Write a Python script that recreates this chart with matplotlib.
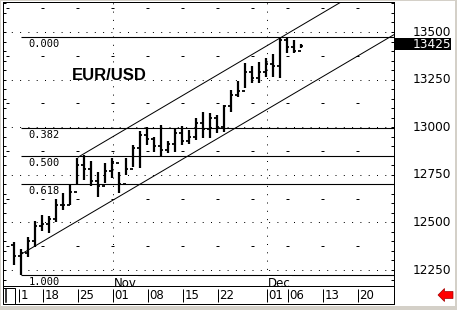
import matplotlib
matplotlib.use('Agg')
import matplotlib.pyplot as plt
from matplotlib.patches import Rectangle, Polygon
from matplotlib import transforms
from matplotlib.ticker import MultipleLocator

# ---------------- data ----------------
bar_idx = list(range(1, 43))  # trading-day index, 0 = Mon Oct 11 2004
highs = [12399, 12360, 12421, 12505, 12539, 12534, 12623, 12654, 12696, 12836,
         12854, 12822, 12767, 12812, 12838, 12767, 12838, 12906, 12980, 13001,
         12951, 13012, 12925, 12996, 13004, 12985, 13048, 13082, 13075, 13064,
         13117, 13195, 13243, 13337, 13319, 13345, 13363, 13387, 13474, 13466,
         13458, 13437]
lows = [12276, 12224, 12318, 12373, 12457, 12444, 12502, 12565, 12594, 12696,
        12723, 12691, 12636, 12707, 12733, 12657, 12749, 12791, 12786, 12906,
        12872, 12843, 12867, 12872, 12906, 12914, 12933, 12943, 12943, 12970,
        12977, 13082, 13161, 13206, 13230, 13230, 13264, 13264, 13258, 13390,
        13390, 13416]
closes = [12325, 12340, 12400, 12480, 12490, 12520, 12590, 12590, 12660, 12800,
          12780, 12720, 12690, 12770, 12810, 12700, 12780, 12890, 12960, 12940,
          12900, 12880, 12910, 12970, 12930, 12950, 13020, 12990, 13050, 13000,
          13110, 13170, 13190, 13290, 13260, 13290, 13330, 13320, 13460, 13420,
          13400, 13425]
opens = [12380] + closes[:-1]

fib_ratios = [0.0, 0.382, 0.5, 0.618, 1.0]
fib_labels = ['0.000', '0.382', '0.500', '0.618', '1.000']

channel_lower_x = [2.0, 55.3]
channel_lower_y = [12332, 13486]
channel_upper_x = [10.2, 48.0]
channel_upper_y = [12843, 13663]

price_labels = [12250, 12500, 12750, 13000, 13250, 13500]
minor_levels = [12375, 12625, 12875, 13125, 13375, 13625]
monday_idx = [0, 5, 10, 15, 20, 25, 30, 35, 40, 45, 50]
month_idx = [15, 37]
month_names = ['Nov', 'Dec']
date_tick_idx = [1.6, 5, 10, 15, 20, 25, 30, 37, 40, 45, 50]
date_tick_labels = ['1', '18', '25', '01', '08', '15', '22', '01', '06', '13', '20']
last_price = 13425
title = 'EUR/USD'

# ---------------- figure ----------------
W, H = 457, 310
fig = plt.figure(figsize=(W / 100, H / 100), dpi=100)
fig.patch.set_facecolor('white')

def fx(px):
    return px / W

def fy(py):
    return 1 - py / H

LW = 0.72  # one pixel
ax = fig.add_axes([fx(2.5), fy(286), (393.5 - 2.5) / W, (286 - 2) / H])
ax.set_xlim(-0.614, 55.24)
ax.set_ylim(12166, 13657.6)
for s in ax.spines.values():
    s.set_linewidth(LW)
    s.set_color('black')
ax.set_xticks([])
ax.yaxis.set_major_locator(MultipleLocator(50))
ax.tick_params(axis='y', which='both', direction='in', left=True, right=True,
               labelleft=False, labelright=False, length=2.5, width=LW)

# dotted grid
for lvl in price_labels:
    ax.axhline(lvl, color='black', lw=LW, dashes=(1, 7.3), zorder=1)
for m in month_idx:
    ax.axvline(m + 0.13, color='black', lw=LW, dashes=(1, 7.3), zorder=1)
for lvl in minor_levels:
    ax.hlines([lvl] * len(monday_idx), [m - 0.05 for m in monday_idx],
              [m + 0.3 for m in monday_idx], color='black', lw=LW, zorder=1)

# fibonacci levels
hi = max(highs)
lo = min(lows)
lo_i = bar_idx[lows.index(lo)]
for r, lab in zip(fib_ratios, fib_labels):
    lvl = hi - r * (hi - lo)
    ax.hlines(lvl, lo_i, 56, color='black', lw=LW * 1.1, zorder=2)
    ax.text(3.1, lvl - 9, lab, ha='left', va='top', fontsize=7.5,
            family='DejaVu Sans Mono', color='black', zorder=3)

# channel
ax.plot(channel_lower_x, channel_lower_y, color='black', lw=LW, zorder=2)
ax.plot(channel_upper_x, channel_upper_y, color='black', lw=LW, zorder=2)

# OHLC bars
ax.vlines(bar_idx, lows, highs, color='black', lw=1.6, zorder=4)
ax.hlines(opens, [i - 0.36 for i in bar_idx], bar_idx, color='black', lw=1.3, zorder=4)
ax.hlines(closes, bar_idx, [i + 0.36 for i in bar_idx], color='black', lw=1.3, zorder=4)

# title
ax.text(14.67, 13269, title, ha='center', va='center', fontsize=12,
        fontweight='bold', family='Liberation Sans', color='black', zorder=5)

# month labels
for m, name in zip(month_idx, month_names):
    ax.text(m + 0.3, 12213, name, ha='left', va='top', fontsize=8.5,
            family='DejaVu Sans', color='black', zorder=6,
            bbox=dict(facecolor='white', edgecolor='none', pad=0.8))

# price labels on right
blend = transforms.blended_transform_factory(fig.transFigure, ax.transData)
for lvl in price_labels:
    fig.text(fx(451.5), lvl, str(lvl), transform=blend, ha='right', va='center',
             fontsize=8.7, family='DejaVu Sans', color='black')
fig.patches.append(Rectangle((fx(394), fy(49.5)), (451 - 394) / W, 11 / H,
                             transform=fig.transFigure, facecolor='black',
                             edgecolor='none'))
fig.text(fx(451.5), fy(44), str(last_price), ha='right', va='center',
         fontsize=8.7, family='DejaVu Sans', color='white')

# date axis
dax = fig.add_axes([fx(2.5), fy(304), (393.5 - 2.5) / W, 18 / H])
dax.set_xlim(-0.614, 55.24)
dax.set_ylim(0, 1)
dax.set_xticks([])
dax.set_yticks([])
for s in dax.spines.values():
    s.set_linewidth(LW)
dax.vlines([t + 0.13 for t in date_tick_idx], 0.11, 0.86, color='black', lw=LW)
for t, lab in zip(date_tick_idx, date_tick_labels):
    dax.text(t + 0.4, 0.45, lab, ha='left', va='center', fontsize=8.5,
             family='DejaVu Sans', color='black')
# small box at left of date axis
fig.patches.append(Rectangle((fx(3.3), fy(304)), 11.7 / W, 16 / H,
                             transform=fig.transFigure, facecolor='white',
                             edgecolor='black', lw=LW, zorder=10))
fig.lines.append(plt.Line2D([fx(5.5), fx(5.5)], [fy(302), fy(289)],
                            transform=fig.transFigure, color='black', lw=1.1, zorder=11))

# red arrow
arrow = [(438, 295), (444.5, 288.5), (444.5, 291.5), (453, 291.5),
         (453, 298.5), (444.5, 298.5), (444.5, 301.5)]
fig.patches.append(Polygon([(fx(x), fy(y)) for x, y in arrow], closed=True,
                           transform=fig.transFigure, facecolor='#ff0000',
                           edgecolor='#a00000', lw=0.5))

# window frame
gray = '#d4d0c8'
for (x0, y0, w, h) in [(0, 0, 1.2, 310), (0, 0, 457, 1.2), (455, 0, 2, 310), (0, 305.5, 457, 4.5)]:
    fig.patches.append(Rectangle((fx(x0), fy(y0 + h)), w / W, h / H,
                                 transform=fig.transFigure, facecolor=gray,
                                 edgecolor='none', zorder=20))

fig.savefig('out.png', dpi=100, facecolor='white')
